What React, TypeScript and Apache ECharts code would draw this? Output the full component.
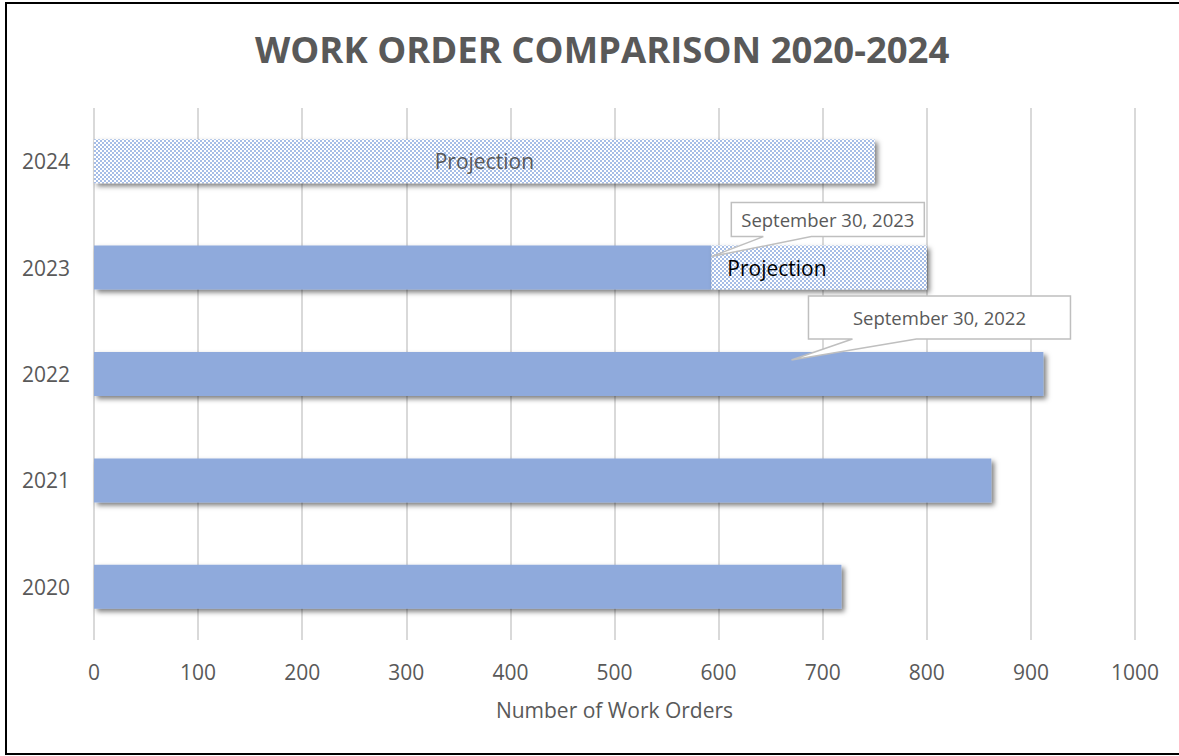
import React, { useEffect, useRef } from "react";
import * as echarts from "echarts";

const years = ["2020", "2021", "2022", "2023", "2024"];
const actualOrders: (number | null)[] = [718, 862, 912, 593, null];
const projectedOrders: (number | null)[] = [null, null, null, 207, 750];
const xMin = 0;
const xMax = 1000;
const xInterval = 100;
const calloutLabels = ["September 30, 2023", "September 30, 2022"];
const calloutYears = ["2023", "2022"];
const calloutValues = [593, 670];

const FONT = "'Open Sans', 'Noto Sans', sans-serif";
const GREY = "#595959";
const BAR = "#8FAADC";

function makePattern(): HTMLCanvasElement {
  const c = document.createElement("canvas");
  c.width = 4;
  c.height = 4;
  const ctx = c.getContext("2d")!;
  ctx.fillStyle = "#ffffff";
  ctx.fillRect(0, 0, 4, 4);
  ctx.fillStyle = "#A6BDE6";
  ctx.fillRect(0, 0, 2, 2);
  ctx.fillRect(2, 2, 2, 2);
  return c;
}

export default function App() {
  const ref = useRef<HTMLDivElement>(null);
  useEffect(() => {
    if (!ref.current) return;
    const chart = echarts.init(ref.current, undefined, { renderer: "svg" });
    const pattern = { image: makePattern(), repeat: "repeat" } as any;
    const shadow = {
      shadowBlur: 5,
      shadowOffsetX: 3,
      shadowOffsetY: 3,
      shadowColor: "rgba(0,0,0,0.5)",
    };
    chart.setOption({
      animation: false,
      backgroundColor: "#ffffff",
      title: {
        text: "WORK ORDER COMPARISON 2020-2024",
        left: 250,
        top: 25,
        textStyle: {
          fontFamily: FONT,
          fontSize: 36.5,
          fontWeight: "bold",
          color: GREY,
        },
      },
      grid: { left: 94, right: 44, top: 108, bottom: 116, containLabel: false },
      xAxis: {
        type: "value",
        min: xMin,
        max: xMax,
        interval: xInterval,
        axisLine: { show: false },
        axisTick: { show: false },
        splitLine: { show: true, lineStyle: { color: "#d9d9d9", width: 2 } },
        axisLabel: {
          fontFamily: FONT,
          fontSize: 21,
          color: GREY,
          margin: 21,
          formatter: (v: number) => String(v),
        },
        name: "Number of Work Orders",
        nameLocation: "middle",
        nameGap: 59,
        nameTextStyle: { fontFamily: FONT, fontSize: 21, color: GREY },
      },
      yAxis: {
        type: "category",
        data: years,
        axisLine: { show: false },
        axisTick: { show: false },
        splitLine: { show: false },
        axisLabel: { fontFamily: FONT, fontSize: 21, color: GREY, margin: 24 },
      },
      series: [
        {
          name: "Actual",
          type: "bar",
          stack: "orders",
          barWidth: 44,
          data: actualOrders,
          itemStyle: { color: BAR, ...shadow },
        },
        {
          name: "Projection",
          type: "bar",
          stack: "orders",
          barWidth: 44,
          data: projectedOrders.map((v, i) =>
            v == null
              ? null
              : {
                  value: v,
                  label:
                    years[i] === "2024"
                      ? { show: true, position: "inside", color: GREY }
                      : { show: true, position: "insideLeft", distance: 16, color: "#000000" },
                }
          ),
          itemStyle: { color: pattern, ...shadow },
          label: {
            show: true,
            formatter: "Projection",
            fontFamily: FONT,
            fontSize: 21,
          },
        },
      ],
    });

    const boxes = [
      { bx0: 20, bx1: 213, by0: -54, by1: -20, w0: 52, w1: 100, dy: -11 },
      { bx0: 17, bx1: 279, by0: -64, by1: -21, w0: 61, w1: 125, dy: -14 },
    ];
    const graphics: any[] = [
      {
        type: "polyline",
        shape: { points: [[1185, 3], [6, 3], [6, 754], [1185, 754]] },
        style: { fill: "none", stroke: "#000000", lineWidth: 2 },
        z: 100,
      },
    ];
    calloutLabels.forEach((label, i) => {
      const p = chart.convertToPixel({ xAxisIndex: 0, yAxisIndex: 0 }, [
        calloutValues[i],
        calloutYears[i],
      ]) as number[];
      const b = boxes[i];
      const tx = p[0];
      const ty = p[1] + b.dy;
      graphics.push({
        type: "polygon",
        shape: {
          points: [
            [tx + b.bx0, ty + b.by0],
            [tx + b.bx1, ty + b.by0],
            [tx + b.bx1, ty + b.by1],
            [tx + b.w1, ty + b.by1],
            [tx, ty],
            [tx + b.w0, ty + b.by1],
            [tx + b.bx0, ty + b.by1],
          ],
        },
        style: { fill: "#ffffff", stroke: "#bfbfbf", lineWidth: 1.5 },
        z: 50,
      });
      graphics.push({
        type: "text",
        x: tx + (b.bx0 + b.bx1) / 2,
        y: ty + (b.by0 + b.by1) / 2,
        style: {
          text: label,
          fontFamily: FONT,
          fontSize: 18.5,
          fill: GREY,
          align: "center",
          verticalAlign: "middle",
        },
        z: 51,
      });
    });
    chart.setOption({ graphic: graphics });

    return () => chart.dispose();
  }, []);
  return (
    <div
      ref={ref}
      style={{ position: "absolute", left: 0, top: 0, width: 1179, height: 756 }}
    />
  );
}
